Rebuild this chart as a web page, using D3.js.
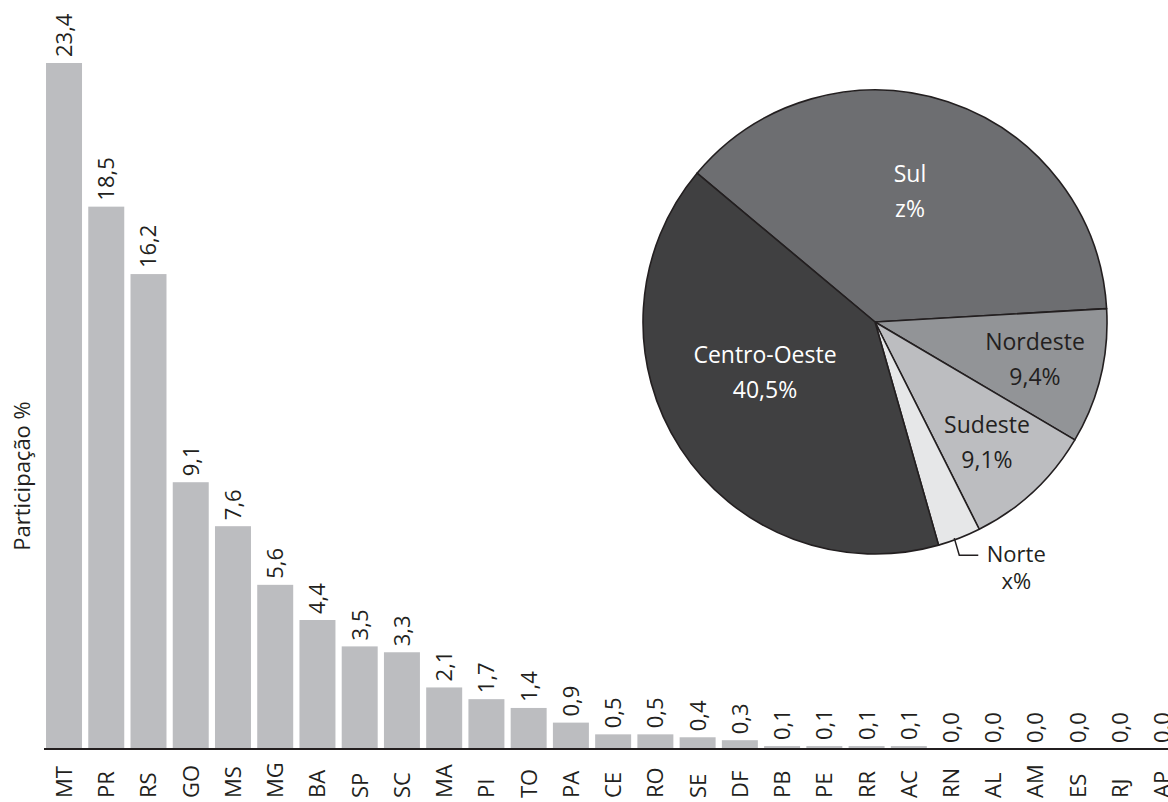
<!DOCTYPE html>
<html>
<head>
<meta charset="utf-8">
<script src="https://cdn.jsdelivr.net/npm/d3@7"></script>
<style>
  html, body { margin: 0; padding: 0; background: #ffffff; }
  svg { display: block; }
  text { font-family: "Open Sans", "Noto Sans", sans-serif; fill: #231f20; }
</style>
</head>
<body>
<svg id="chart" width="1168" height="802"></svg>
<script>
// State shares (%)
const states = ["MT","PR","RS","GO","MS","MG","BA","SP","SC","MA","PI","TO","PA","CE","RO","SE","DF","PB","PE","RR","AC","RN","AL","AM","ES","RJ","AP"];
const stateValues = [23.4,18.5,16.2,9.1,7.6,5.6,4.4,3.5,3.3,2.1,1.7,1.4,0.9,0.5,0.5,0.4,0.3,0.1,0.1,0.1,0.1,0.0,0.0,0.0,0.0,0.0,0.0];

// Regional shares (%) for the pie, drawn clockwise starting with Sul
const regions = ["Sul","Nordeste","Sudeste","Norte","Centro-Oeste"];
const regionValues = [38.0, 9.4, 9.1, 3.0, 40.5];
const regionLabels = ["z%", "9,4%", "9,1%", "x%", "40,5%"];

const svg = d3.select("#chart");
const fmt = v => d3.format(".1f")(v).replace(".", ",");

// ---- Bar chart ----
const baseY = 749;
const step = 42.24;
const x = d3.scaleBand()
  .domain(states)
  .range([42.9, 42.9 + step * states.length])
  .paddingInner(0.148)
  .paddingOuter(0.074);

const y = d3.scaleLinear()
  .domain([0, 23.4])
  .range([baseY, 63]);

const data = states.map((s, i) => ({ state: s, value: stateValues[i] }));

svg.append("g")
  .selectAll("rect")
  .data(data.filter(d => d.value > 0))
  .join("rect")
  .attr("x", d => x(d.state))
  .attr("y", d => y(d.value))
  .attr("width", x.bandwidth())
  .attr("height", d => baseY - y(d.value))
  .attr("fill", "#bcbdc0");

// value labels above the bars
svg.append("g")
  .selectAll("text")
  .data(data)
  .join("text")
  .attr("transform", d => `translate(${x(d.state) + x.bandwidth() / 2},${y(d.value) - 6}) rotate(-90)`)
  .attr("dy", "0.36em")
  .attr("text-anchor", "start")
  .style("font-size", "22px")
  .text(d => fmt(d.value));

// baseline
svg.append("line")
  .attr("x1", 44).attr("x2", 1168)
  .attr("y1", baseY).attr("y2", baseY)
  .attr("stroke", "#231f20")
  .attr("stroke-width", 2);

// category labels below the axis
const xAxis = d3.axisBottom(x).tickSize(0).tickPadding(0);
const axisG = svg.append("g").attr("transform", `translate(0,${baseY})`).call(xAxis);
axisG.select(".domain").remove();
axisG.selectAll("text")
  .attr("transform", "translate(0,49) rotate(-90)")
  .attr("x", 0).attr("y", 0)
  .attr("dy", "0.36em")
  .attr("text-anchor", "start")
  .style("font-size", "22px")
  .style("font-family", "'Open Sans', 'Noto Sans', sans-serif")
  .attr("fill", "#231f20");

// y axis title
svg.append("text")
  .attr("transform", "translate(30,476) rotate(-90)")
  .attr("text-anchor", "middle")
  .style("font-size", "22px")
  .text("Participação %");

// ---- Pie chart ----
const cx = 875, cy = 322, R = 232;
const startDeg = -50.1;
const pie = d3.pie()
  .sort(null)
  .value(d => d.value)
  .startAngle(startDeg * Math.PI / 180)
  .endAngle((startDeg + 360) * Math.PI / 180);

const regionData = regions.map((r, i) => ({ name: r, value: regionValues[i], label: regionLabels[i] }));
const arcs = pie(regionData);
const arc = d3.arc().innerRadius(0).outerRadius(R);
const colors = d3.scaleOrdinal()
  .domain(regions)
  .range(["#6d6e71", "#929497", "#bcbdc0", "#e6e7e8", "#404041"]);

const pieG = svg.append("g").attr("transform", `translate(${cx},${cy})`);
pieG.selectAll("path")
  .data(arcs)
  .join("path")
  .attr("d", arc)
  .attr("fill", d => colors(d.data.name))
  .attr("stroke", "#231f20")
  .attr("stroke-width", 1.6)
  .attr("stroke-linejoin", "round");

// label anchors (relative to pie centre)
const labelPos = {
  "Sul": [35, -140],
  "Nordeste": [160, 28],
  "Sudeste": [112, 111],
  "Centro-Oeste": [-110, 41]
};
const lightText = new Set(["Sul", "Centro-Oeste"]);

arcs.filter(a => labelPos[a.data.name]).forEach(a => {
  const [lx, ly] = labelPos[a.data.name];
  const t = pieG.append("text")
    .attr("text-anchor", "middle")
    .style("font-size", "23px")
    .style("fill", lightText.has(a.data.name) ? "#ffffff" : "#231f20");
  t.append("tspan").attr("x", lx).attr("y", ly).text(a.data.name);
  t.append("tspan").attr("x", lx).attr("y", ly + 35).text(a.data.label);
});

// Norte: leader line from the slice edge to an outside label
const norte = arcs.find(a => a.data.name === "Norte");
const mid = (norte.startAngle + norte.endAngle) / 2;
const px = R * Math.sin(mid) - 5, py = -R * Math.cos(mid);
pieG.append("path")
  .attr("d", d3.line()([[px, py], [px + 5, py + 17], [px + 24, py + 17]]))
  .attr("fill", "none")
  .attr("stroke", "#231f20")
  .attr("stroke-width", 1.5);
pieG.append("text")
  .attr("x", px + 62).attr("y", py + 24)
  .attr("text-anchor", "middle")
  .style("font-size", "22px")
  .text("Norte");
pieG.append("text")
  .attr("x", px + 62).attr("y", py + 51)
  .attr("text-anchor", "middle")
  .style("font-size", "22px")
  .text(norte.data.label);
</script>
</body>
</html>
